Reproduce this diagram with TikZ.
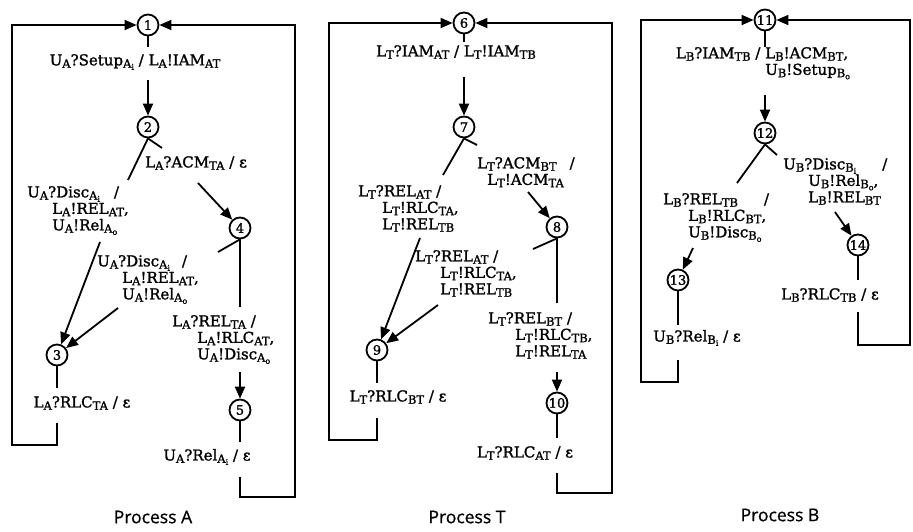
\documentclass[tikz,border=0pt]{standalone}
\usepackage{fontspec}
\setmainfont{DejaVu Serif}[FakeBold=1.4]
\newfontfamily\capfont{Open Sans}[FakeBold=0.8]
\usetikzlibrary{arrows.meta}

% lowered small letters for message indices
\newcommand\sbx[1]{\raisebox{-0.3ex}{\fontsize{11.5}{11.5}\selectfont #1}}
\newcommand\sbxx[1]{\raisebox{-0.35ex}{\fontsize{8}{8}\selectfont #1}}

\begin{document}
\begin{tikzpicture}[x=1pt,y=-1pt,
  st/.style={circle,draw,line width=1.8pt,minimum size=21pt,inner sep=0pt,
             font=\fontsize{13}{13}\selectfont},
  ln/.style={line width=1.8pt},
  arr/.style={line width=1.8pt,-{Triangle[length=12pt,width=10pt]}},
  lbl/.style={align=left,inner sep=0pt,font=\fontsize{15}{16.5}\selectfont},
  ptitle/.style={font=\capfont\fontsize{17.5}{17.5}\selectfont}]
\useasboundingbox (0,0) rectangle (913,531);

% ---------------- Process A ----------------
\node[st] (n1) at (148,25) {1};
\node[st] (n2) at (148,127) {2};
\node[st] (n3) at (57,355) {3};
\node[st] (n4) at (240,228) {4};
\node[st] (n5) at (240,410) {5};

\node[lbl] (a1) at (135,62) {U\sbx{A}?Setup\sbx{A\sbxx{i}} / L\sbx{A}!IAM\sbx{AT}};
\node[lbl,anchor=west] (a2) at (145,163) {L\sbx{A}?ACM\sbx{TA} / ε};
\node[lbl,anchor=north west] (a3) at (27,186)
  {U\sbx{A}?Disc\sbx{A\sbxx{i}}\hspace{14pt}/\\\hspace*{25pt}L\sbx{A}!REL\sbx{AT},\\\hspace*{25pt}U\sbx{A}!Rel\sbx{A\sbxx{o}}};
\node[lbl,anchor=north west] (a4) at (97,255)
  {U\sbx{A}?Disc\sbx{A\sbxx{i}}\hspace{12pt}/\\\hspace*{25pt}L\sbx{A}!REL\sbx{AT},\\\hspace*{25pt}U\sbx{A}!Rel\sbx{A\sbxx{o}}};
\node[lbl,anchor=north west] (a5) at (172,315)
  {L\sbx{A}?REL\sbx{TA} /\\\hspace*{25pt}L\sbx{A}!RLC\sbx{AT},\\\hspace*{25pt}U\sbx{A}!Disc\sbx{A\sbxx{o}}};
\node[lbl] (a6) at (82,403) {L\sbx{A}?RLC\sbx{TA} / ε};
\node[lbl] (a7) at (207,457) {U\sbx{A}?Rel\sbx{A\sbxx{i}} / ε};

\coordinate (a1t) at (148,47);
\coordinate (a1b) at (148,80);
\coordinate (a24t) at (162,148);
\coordinate (a24b) at (198,183);
\coordinate (a23t) at (128,180);
\coordinate (a23b) at (100,242);
\coordinate (a43t) at (218,252);
\coordinate (a43b) at (118,308);
\coordinate (a45t) at (240,307);
\coordinate (a45b) at (240,372);
\coordinate (a5t) at (240,442);
\coordinate (a5b) at (240,477);
\coordinate (ar) at (295,497);
\coordinate (a3t) at (57,388);
\coordinate (a3b) at (57,423);
\coordinate (al) at (12,445);

\draw[ln] (n1) -- (a1t);
\draw[arr] (a1b) -- (n2);
\draw[ln] (n2.south) -- (a24t);
\draw[arr] (a24b) -- (n4);
\draw[ln] (n2.south) -- (a23t);
\draw[arr] (a23b) -- (n3);
\draw[ln] (n4.south) -- (a43t);
\draw[arr] (a43b) -- (n3);
\draw[ln] (n4) -- (a45t);
\draw[arr] (a45b) -- (n5);
\draw[ln] (n5) -- (a5t);
\draw[arr] (a5b) |- (ar) |- (n1);
\draw[ln] (n3) -- (a3t);
\draw[arr] (a3b) |- (al) |- (n1);

\node[ptitle] (pa) at (153,517) {Process A};

% ---------------- Process T ----------------
\node[st] (n6) at (464,23) {6};
\node[st] (n7) at (464,127) {7};
\node[st] (n8) at (557,227) {8};
\node[st] (n9) at (377,350) {9};
\node[st] (n10) at (557,403) {10};

\node[lbl] (t1) at (456,52) {L\sbx{T}?IAM\sbx{AT} / L\sbx{T}!IAM\sbx{TB}};
\node[lbl,anchor=north west] (t2) at (477,157)
  {L\sbx{T}?ACM\sbx{BT}\hspace{13pt}/\\\hspace*{10pt}L\sbx{T}!ACM\sbx{TA}};
\node[lbl,anchor=north west] (t3) at (358,185)
  {L\sbx{T}?REL\sbx{AT} /\\\hspace*{24pt}L\sbx{T}!RLC\sbx{TA},\\\hspace*{24pt}L\sbx{T}!REL\sbx{TB}};
\node[lbl,anchor=north west] (t4) at (415,250)
  {L\sbx{T}?REL\sbx{AT} /\\\hspace*{25pt}L\sbx{T}!RLC\sbx{TA},\\\hspace*{25pt}L\sbx{T}!REL\sbx{TB}};
\node[lbl,anchor=north west] (t5) at (488,312)
  {L\sbx{T}?REL\sbx{BT} /\\\hspace*{27pt}L\sbx{T}!RLC\sbx{TB},\\\hspace*{27pt}L\sbx{T}!REL\sbx{TA}};
\node[lbl] (t6) at (398,397) {L\sbx{T}?RLC\sbx{BT} / ε};
\node[lbl] (t7) at (525,453) {L\sbx{T}?RLC\sbx{AT} / ε};

\coordinate (t1t) at (464,42);
\coordinate (t1b) at (464,77);
\coordinate (t78t) at (477,145);
\coordinate (t78b) at (528,192);
\coordinate (t79t) at (443,175);
\coordinate (t79b) at (420,238);
\coordinate (t89t) at (533,249);
\coordinate (t89b) at (438,305);
\coordinate (t810t) at (557,303);
\coordinate (t810b) at (557,372);
\coordinate (t10t) at (557,438);
\coordinate (t10b) at (557,473);
\coordinate (tr) at (612,493);
\coordinate (t9t) at (377,383);
\coordinate (t9b) at (377,418);
\coordinate (tl) at (329,440);

\draw[ln] (n6) -- (t1t);
\draw[arr] (t1b) -- (n7);
\draw[ln] (n7.south) -- (t78t);
\draw[arr] (t78b) -- (n8);
\draw[ln] (n7.south) -- (t79t);
\draw[arr] (t79b) -- (n9);
\draw[ln] (n8.south) -- (t89t);
\draw[arr] (t89b) -- (n9);
\draw[ln] (n8) -- (t810t);
\draw[arr] (t810b) -- (n10);
\draw[ln] (n10) -- (t10t);
\draw[arr] (t10b) |- (tr) |- (n6);
\draw[ln] (n9) -- (t9t);
\draw[arr] (t9b) |- (tl) |- (n6);

\node[ptitle] (pt) at (467,517) {Process T};

% ---------------- Process B ----------------
\node[st] (n11) at (765,20) {11};
\node[st] (n12) at (765,133) {12};
\node[st] (n13) at (678,280) {13};
\node[st] (n14) at (858,245) {14};

% the outputs start right under the stub of state 11
\node[lbl,anchor=north west] (b1) at (765,47)
  {\llap{L\sbx{B}?IAM\sbx{TB} / }L\sbx{B}!ACM\sbx{BT},\\U\sbx{B}!Setup\sbx{B\sbxx{o}}};
\node[lbl,anchor=north west] (b2) at (783,158)
  {U\sbx{B}?Disc\sbx{B\sbxx{i}}\hspace{26pt}/\\\hspace*{25pt}U\sbx{B}!Rel\sbx{B\sbxx{o}},\\\hspace*{25pt}L\sbx{B}!REL\sbx{BT}};
\node[lbl,anchor=north west] (b3) at (663,193)
  {L\sbx{B}?REL\sbx{TB}\hspace{26pt}/\\\hspace*{25pt}L\sbx{B}!RLC\sbx{BT},\\\hspace*{25pt}U\sbx{B}!Disc\sbx{B\sbxx{o}}};
\node[lbl] (b4) at (830,295) {L\sbx{B}?RLC\sbx{TB} / ε};
\node[lbl] (b5) at (697,338) {U\sbx{B}?Rel\sbx{B\sbxx{i}} / ε};

\coordinate (b1t) at (765,47);
\coordinate (b1b) at (765,95);
\coordinate (b214t) at (777,155);
\coordinate (b214b) at (835,212);
\coordinate (b213t) at (737,183);
\coordinate (b213b) at (693,248);
\coordinate (b13t) at (678,325);
\coordinate (b13b) at (678,360);
\coordinate (bl) at (641,382);
\coordinate (b14t) at (858,280);
\coordinate (b14b) at (858,312);
\coordinate (br) at (910,345);

\draw[ln] (n11) -- (b1t);
\draw[arr] (b1b) -- (n12);
\draw[ln] (n12.south) -- (b214t);
\draw[arr] (b214b) -- (n14);
\draw[ln] (n12.south) -- (b213t);
\draw[arr] (b213b) -- (n13);
\draw[ln] (n13) -- (b13t);
\draw[arr] (b13b) |- (bl) |- (n11);
\draw[ln] (n14) -- (b14t);
\draw[arr] (b14b) |- (br) |- (n11);

\node[ptitle] (pb) at (780,515) {Process B};
\end{tikzpicture}
\end{document}
